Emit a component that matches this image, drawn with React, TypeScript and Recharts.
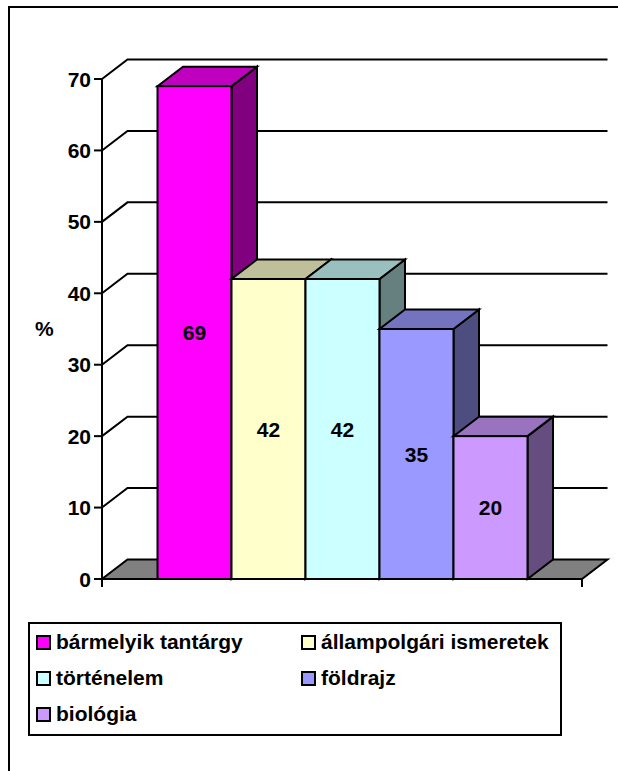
import React from 'react';
import { BarChart, Bar, XAxis, YAxis, CartesianGrid, Legend, LabelList } from 'recharts';

const categories = [''];
const seriesNames = ['bármelyik tantárgy', 'állampolgári ismeretek', 'történelem', 'földrajz', 'biológia'];
const seriesValues = [69, 42, 42, 35, 20];
const yTicks = [0, 10, 20, 30, 40, 50, 60, 70];

const colors = ['#FF00FF', '#FFFFCC', '#CCFFFF', '#9999FF', '#CC99FF'];
const FONT = 'Arial, "Liberation Sans", sans-serif';

// depth of the 3d effect
const DX = 25.5;
const DY = -19.5;

const W = 618;
const H = 771;
const margin = { top: 79, right: 36, left: 0, bottom: 192 };
const PLOT_BOTTOM = H - margin.bottom;

const data = categories.map((name) => {
  const row: any = { name };
  seriesNames.forEach((s, i) => {
    row['s' + i] = seriesValues[i];
  });
  return row;
});

const shade = (hex: string, f: number) => {
  const n = parseInt(hex.slice(1), 16);
  const r = Math.round(((n >> 16) & 255) * f);
  const g = Math.round(((n >> 8) & 255) * f);
  const b = Math.round((n & 255) * f);
  return `rgb(${r},${g},${b})`;
};

const Bar3D = (props: any) => {
  const { x, y, width, height, fill } = props;
  if (width == null || height == null) return null;
  const top = `${x},${y} ${x + width},${y} ${x + width + DX},${y + DY} ${x + DX},${y + DY}`;
  const side = `${x + width},${y} ${x + width + DX},${y + DY} ${x + width + DX},${y + height + DY} ${x + width},${y + height}`;
  return (
    <g stroke="#000" strokeWidth={2} strokeLinejoin="miter">
      <polygon points={side} fill={shade(fill, 0.5)} />
      <polygon points={top} fill={shade(fill, 0.75)} />
      <rect x={x} y={y} width={width} height={height} fill={fill} />
    </g>
  );
};

const gridLine = (props: any) => {
  const { x1, x2, y1, key } = props;
  const isFloor = Math.abs(y1 - PLOT_BOTTOM) < 1;
  if (isFloor) {
    return (
      <g key={key} stroke="#000" strokeWidth={2}>
        <polygon
          points={`${x1},${y1} ${x2},${y1} ${x2 + DX},${y1 + DY} ${x1 + DX},${y1 + DY}`}
          fill="#808080"
        />
        <line x1={x2} y1={y1} x2={x2} y2={y1 + 8} />
        <line x1={x1} y1={y1} x2={x1} y2={y1 + 8} />
      </g>
    );
  }
  return (
    <g key={key} stroke="#000" strokeWidth={2} fill="none">
      <polyline points={`${x1},${y1} ${x1 + DX},${y1 + DY} ${x2 + DX},${y1 + DY}`} />
    </g>
  );
};

const YTick = (props: any) => {
  const { x, y, payload } = props;
  return (
    <text x={x} y={y} textAnchor="end" dominantBaseline="central" fontFamily={FONT} fontWeight="bold" fontSize={21} fill="#000">
      {payload.value}
    </text>
  );
};

const renderValue = (props: any) => {
  const { x, y, width, height, value } = props;
  return (
    <text x={x + width / 2} y={y + height / 2} textAnchor="middle" dominantBaseline="central" fontFamily={FONT} fontWeight="bold" fontSize={21} fill="#000">
      {value}
    </text>
  );
};

const LegendBox = () => (
  <div
    style={{
      boxSizing: 'border-box',
      width: 534,
      height: 114,
      border: '2px solid #000',
      display: 'grid',
      gridTemplateColumns: '265px 1fr',
      gridAutoRows: '36px',
      padding: '0 0 0 6px',
      fontFamily: FONT,
      fontWeight: 'bold',
      fontSize: 21,
      color: '#000',
      textAlign: 'left',
    }}
  >
    {seriesNames.map((name, i) => (
      <div key={name} style={{ display: 'flex', alignItems: 'center', whiteSpace: 'nowrap' }}>
        <span
          style={{
            boxSizing: 'border-box',
            display: 'inline-block',
            width: 15,
            height: 15,
            background: colors[i],
            border: '2px solid #000',
            marginRight: 5,
          }}
        />
        {name}
      </div>
    ))}
  </div>
);

export default function App() {
  return (
    <div style={{ position: 'absolute', left: 0, top: 0, width: W, height: H, overflow: 'hidden', background: '#fff' }}>
      <div style={{ position: 'absolute', left: 8, top: 6, width: 700, height: 900, border: '2px solid #000' }} />
      <div style={{ position: 'absolute', left: 0, top: 0 }}>
        <BarChart width={W} height={H} data={data} margin={margin} barGap={0} barCategoryGap={55.5}>
          <CartesianGrid horizontal={gridLine} vertical={false} />
          <XAxis dataKey="name" hide />
          <YAxis
            domain={[0, 70]}
            ticks={yTicks}
            width={102}
            tick={<YTick />}
            tickSize={8}
            tickMargin={3}
            axisLine={{ stroke: '#000', strokeWidth: 2 }}
            tickLine={{ stroke: '#000', strokeWidth: 2 }}
            interval={0}
            label={{ value: '%', position: 'insideLeft', offset: 35, fontFamily: FONT, fontWeight: 'bold', fontSize: 21, fill: '#000' }}
          />
          <Legend
            verticalAlign="middle"
            align="center"
            content={<LegendBox />}
            wrapperStyle={{ left: 28, top: 622, width: 534, height: 114 }}
          />
          {seriesNames.map((s, i) => (
            <Bar key={s} dataKey={'s' + i} name={s} fill={colors[i]} shape={<Bar3D />} isAnimationActive={false}>
              <LabelList dataKey={'s' + i} content={renderValue} />
            </Bar>
          ))}
        </BarChart>
      </div>
    </div>
  );
}
